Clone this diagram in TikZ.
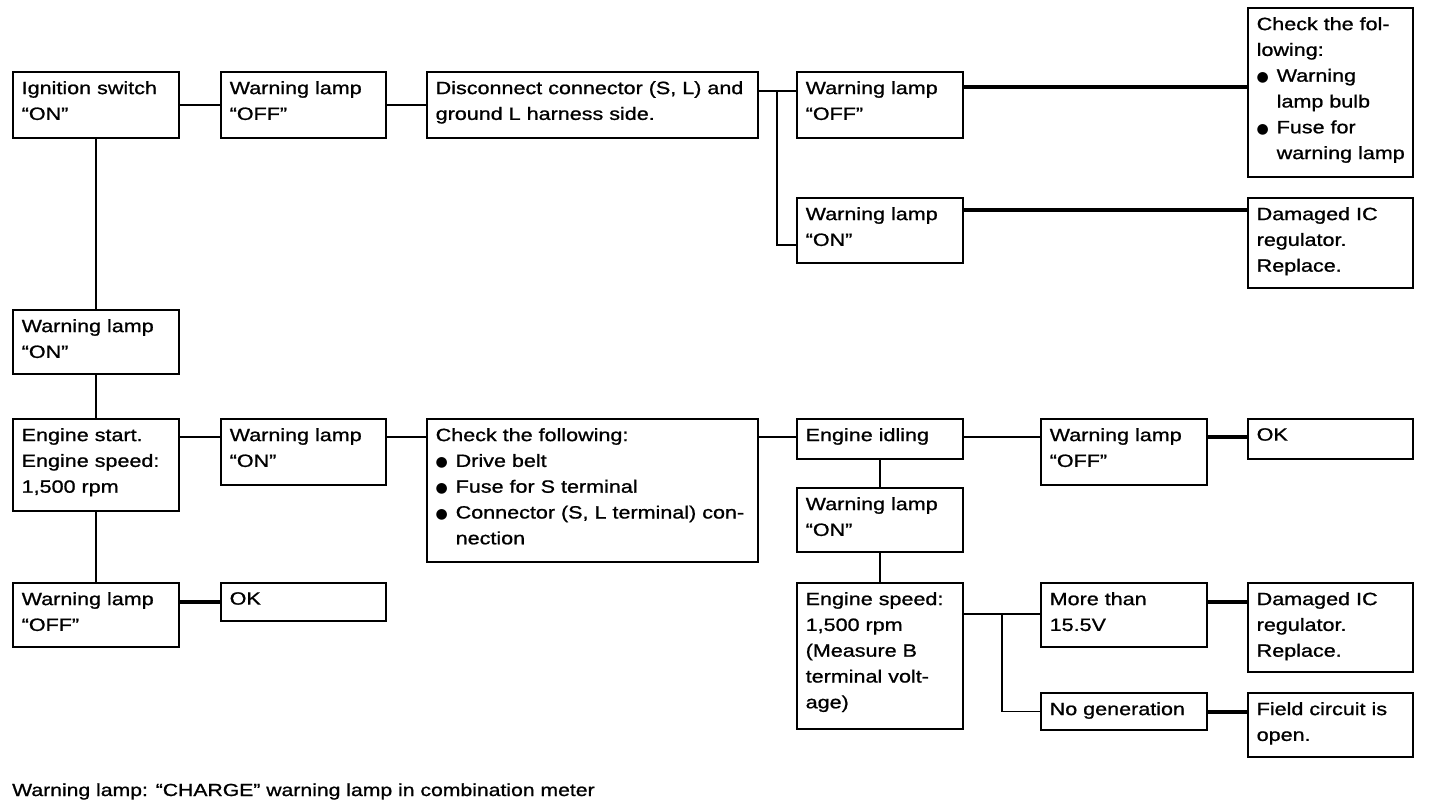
\documentclass[tikz,border=0pt]{standalone}
\usepackage{fontspec}
\setmainfont{Liberation Sans}[FakeStretch=1.21,FakeBold=1]
\newfontfamily\dotfont{DejaVu Sans}
\usetikzlibrary{positioning,calc}
\newcommand{\bul}{\makebox[20pt][l]{\dotfont\fontsize{14}{14}\selectfont ●}}
\newcommand{\ind}{\hspace*{20pt}}

\begin{document}
\begin{tikzpicture}[x=1pt,y=-1pt,
	stepbox/.style={draw,line width=2.2pt,anchor=north west,inner sep=0pt},
	txt/.style={anchor=north west,align=left,inner sep=0pt,xshift=9.5pt,yshift=-10pt,font=\fontsize{17.8}{25.8}\selectfont},
	thinlink/.style={line width=1.5pt},
	midlink/.style={line width=2.6pt},
	boldlink/.style={line width=4pt}]
	\useasboundingbox (0,0) rectangle (1440,806);
	
	% top row
	\node[stepbox,minimum width=166pt,minimum height=66pt] (ign) at (12,71) {};
	\node[stepbox,minimum width=165pt,minimum height=66pt] (wloff1) at (220,71) {};
	\node[stepbox,minimum width=331pt,minimum height=66pt] (disc) at (426,71) {};
	\node[stepbox,minimum width=166pt,minimum height=66pt] (wloffA) at (796,71) {};
	\node[stepbox,minimum width=165pt,minimum height=169pt] (checkA) at (1247,7) {};
	\node[stepbox,minimum width=166pt,minimum height=65pt] (wlonA) at (796,197) {};
	\node[stepbox,minimum width=165pt,minimum height=90pt] (damA) at (1247,197) {};
	
	% left column
	\node[stepbox,minimum width=166pt,minimum height=64pt] (wlonL) at (12,309) {};
	\node[stepbox,minimum width=166pt,minimum height=92pt] (start) at (12,418) {};
	\node[stepbox,minimum width=166pt,minimum height=64pt] (wloffL) at (12,582) {};
	\node[stepbox,minimum width=165pt,minimum height=38pt] (okL) at (220,582) {};
	
	% middle row
	\node[stepbox,minimum width=165pt,minimum height=66pt] (wlonM) at (220,418) {};
	\node[stepbox,minimum width=331pt,minimum height=143pt] (checkM) at (426,418) {};
	\node[stepbox,minimum width=166pt,minimum height=40pt] (idle) at (796,418) {};
	\node[stepbox,minimum width=166pt,minimum height=66pt] (wloffB) at (1040,418) {};
	\node[stepbox,minimum width=165pt,minimum height=40pt] (okB) at (1247,418) {};
	\node[stepbox,minimum width=166pt,minimum height=64pt] (wlonB) at (796,487) {};
	
	% bottom right
	\node[stepbox,minimum width=166pt,minimum height=146pt] (speed) at (796,582) {};
	\node[stepbox,minimum width=166pt,minimum height=64pt] (more) at (1040,582) {};
	\node[stepbox,minimum width=165pt,minimum height=89pt] (damB) at (1247,582) {};
	\node[stepbox,minimum width=166pt,minimum height=37pt] (nogen) at (1040,692) {};
	\node[stepbox,minimum width=165pt,minimum height=64pt] (field) at (1247,692) {};
	
	% texts
	\node[txt] (ign-t) at (ign.north west) {Ignition switch\\“ON”};
	\node[txt] (wloff1-t) at (wloff1.north west) {Warning lamp\\“OFF”};
	\node[txt] (disc-t) at (disc.north west) {Disconnect connector (S, L) and\\ground L harness side.};
	\node[txt] (wloffA-t) at (wloffA.north west) {Warning lamp\\“OFF”};
	\node[txt] (checkA-t) at (checkA.north west) {Check the fol-\\lowing:\\\bul Warning\\\ind lamp bulb\\\bul Fuse for\\\ind warning lamp};
	\node[txt] (wlonA-t) at (wlonA.north west) {Warning lamp\\“ON”};
	\node[txt] (damA-t) at (damA.north west) {Damaged IC\\regulator.\\Replace.};
	\node[txt] (wlonL-t) at (wlonL.north west) {Warning lamp\\“ON”};
	\node[txt] (start-t) at (start.north west) {Engine start.\\Engine speed:\\1,500 rpm};
	\node[txt] (wloffL-t) at (wloffL.north west) {Warning lamp\\“OFF”};
	\node[txt] (okL-t) at (okL.north west) {OK};
	\node[txt] (wlonM-t) at (wlonM.north west) {Warning lamp\\“ON”};
	\node[txt] (checkM-t) at (checkM.north west) {Check the following:\\\bul Drive belt\\\bul Fuse for S terminal\\\bul Connector (S, L terminal) con-\\\ind nection};
	\node[txt] (idle-t) at (idle.north west) {Engine idling};
	\node[txt] (wloffB-t) at (wloffB.north west) {Warning lamp\\“OFF”};
	\node[txt] (okB-t) at (okB.north west) {OK};
	\node[txt] (wlonB-t) at (wlonB.north west) {Warning lamp\\“ON”};
	\node[txt] (speed-t) at (speed.north west) {Engine speed:\\1,500 rpm\\(Measure B\\terminal volt-\\age)};
	\node[txt] (more-t) at (more.north west) {More than\\15.5V};
	\node[txt] (damB-t) at (damB.north west) {Damaged IC\\regulator.\\Replace.};
	\node[txt] (nogen-t) at (nogen.north west) {No generation};
	\node[txt] (field-t) at (field.north west) {Field circuit is\\open.};
	
	\node[anchor=base west,inner sep=0pt,font=\fontsize{17.5}{25}\selectfont] (note) at (12,796) {Warning lamp: “CHARGE” warning lamp in combination meter};
	
	% connectors, top
	\draw[midlink] (ign) -- (wloff1);
	\draw[midlink] (wloff1) -- (disc);
	\coordinate (fork1) at ([yshift=-20pt]disc.north east);
	\draw[thinlink] (fork1) -- (fork1 -| wloffA.west);
	\draw[thinlink] ([xshift=18pt]fork1) |- ([yshift=-48pt]wlonA.north west);
	\coordinate (outA) at ([yshift=-16pt]wloffA.north east);
	\draw[boldlink] (outA) -- (outA -| checkA.west);
	\coordinate (outB) at ([yshift=-13pt]wlonA.north east);
	\draw[boldlink] (outB) -- (outB -| damA.west);
	
	% connectors, left
	\draw[midlink] (ign) -- (wlonL);
	\draw[line width=2pt] (wlonL) -- (start);
	\draw[thinlink] (start) -- (wloffL);
	\coordinate (outD) at ([yshift=-20pt]wloffL.north east);
	\draw[boldlink] (outD) -- (outD -| okL.west);
	
	% connectors, middle
	\coordinate (outC) at ([yshift=-19pt]start.north east);
	\draw[thinlink] (outC) -- (outC -| wlonM.west);
	\draw[thinlink] (outC -| wlonM.east) -- (outC -| checkM.west);
	\draw[line width=1.2pt] (outC -| checkM.east) -- (outC -| idle.west);
	\draw[thinlink] (outC -| idle.east) -- (outC -| wloffB.west);
	\draw[boldlink] (outC -| wloffB.east) -- (outC -| okB.west);
	\draw[midlink] (idle) -- (wlonB);
	\draw[thinlink] (wlonB) -- (speed);
	
	% connectors, bottom right
	\coordinate (outE) at ([yshift=-32pt]speed.north east);
	\draw[line width=2pt] (outE) -- (outE -| more.west);
	\draw[thinlink] ([xshift=38pt]outE) |- (nogen.west);
	\coordinate (outF) at ([yshift=-20pt]more.north east);
	\draw[boldlink] (outF) -- (outF -| damB.west);
	\draw[boldlink] (nogen.east) -- (nogen.east -| field.west);
\end{tikzpicture}
\end{document}
